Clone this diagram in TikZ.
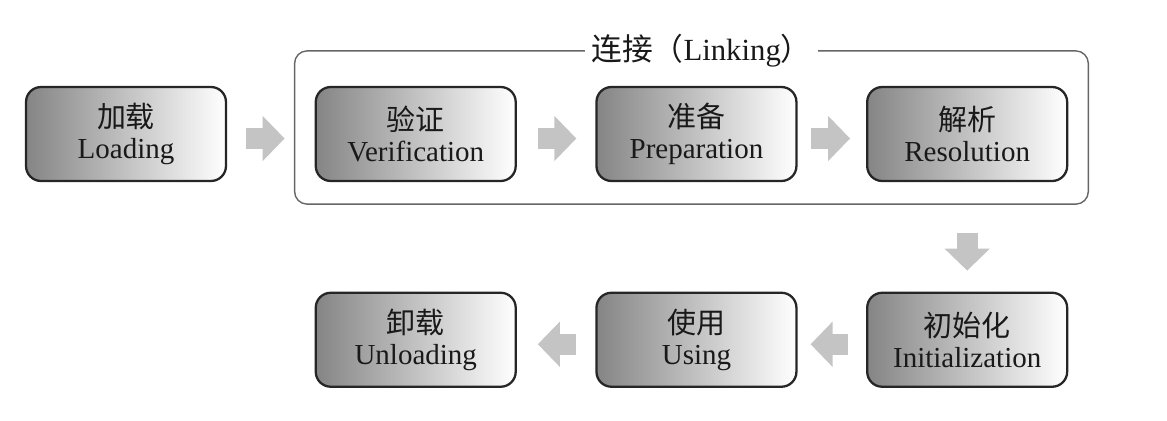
\documentclass[tikz,border=0pt]{standalone}
\usepackage{fontspec}
\setmainfont{Liberation Serif}
\newfontfamily\cjk{Noto Sans CJK SC}
\usepackage{tikz}
\usetikzlibrary{arrows.meta,positioning,fit}

\begin{document}
\begin{tikzpicture}[
  x=0.02cm, y=-0.02cm,
  node distance=1.57cm,
  stage/.style={draw=black!85,line width=1.3pt,rounded corners=0.3cm,left color=black!48,right color=white,minimum width=4cm,minimum height=1.88cm,align=center,text=black!90,font=\fontsize{16.5}{17.5}\selectfont},
  linkframe/.style={draw=black!60,line width=0.8pt,rounded corners=0.25cm,inner xsep=0.4cm,inner ysep=0.44cm},
  flow/.style={draw=black!23,line width=0.42cm,-{Triangle[width=0.88cm,length=0.44cm]}}
]
\useasboundingbox (0,0) rectangle (1167,420);

% top row
\node[stage] (load) at (126,134) {{\cjk 加载}\\Loading};
\node[stage,right=1.75cm of load] (verify) {{\cjk 验证}\\Verification};
\node[stage,right=1.57cm of verify] (prep) {{\cjk 准备}\\Preparation};
\node[stage,right=1.37cm of prep] (resolve) {{\cjk 解析}\\Resolution};

% bottom row
\node[stage,below=2.19cm of resolve] (init) {{\cjk 初始化}\\Initialization};
\node[stage,left=1.37cm of init] (use) {{\cjk 使用}\\Using};
\node[stage,left=1.57cm of use] (unload) {{\cjk 卸载}\\Unloading};

% linking frame
\coordinate[above=0.26cm of verify.north] (linktop);
\node[linkframe,fit=(linktop)(verify)(resolve)] (linking) {};
\node[fill=white,inner xsep=0.12cm,text=black!90,font=\fontsize{17.5}{18}\selectfont] (linklabel) at ([xshift=0.2cm]linking.north) {{\cjk 连接（}Linking{\cjk ）}};

\draw[flow,shorten <=0.38cm,shorten >=0.6cm] ([yshift=-0.09cm]load.east) -- ([yshift=-0.09cm]verify.west);
\draw[flow,shorten <=0.42cm,shorten >=0.38cm] ([yshift=-0.09cm]verify.east) -- ([yshift=-0.09cm]prep.west);
\draw[flow,shorten <=0.26cm,shorten >=0.32cm] ([yshift=-0.09cm]prep.east) -- ([yshift=-0.09cm]resolve.west);
\draw[flow,shorten <=1.02cm,shorten >=0.42cm] (resolve) -- (init);
\draw[flow,shorten <=0.36cm,shorten >=0.26cm] ([yshift=-0.09cm]init.west) -- ([yshift=-0.09cm]use.east);
\draw[flow,shorten <=0.38cm,shorten >=0.42cm] ([yshift=-0.09cm]use.west) -- ([yshift=-0.09cm]unload.east);

\end{tikzpicture}
\end{document}
